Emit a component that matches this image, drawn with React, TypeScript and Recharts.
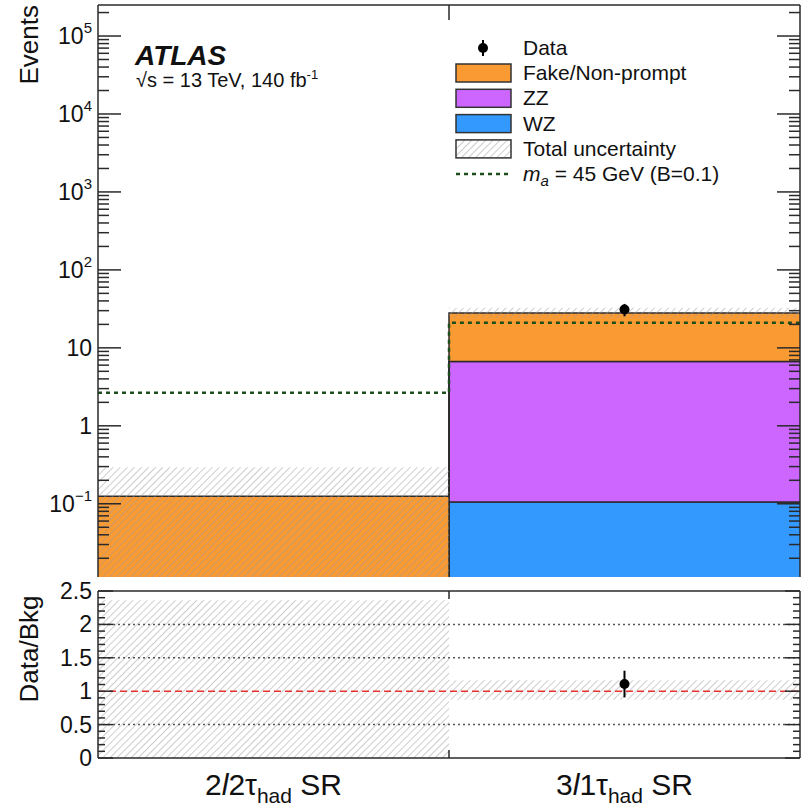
import React from 'react';
import {
  ComposedChart,
  Area,
  Line,
  Scatter,
  ErrorBar,
  XAxis,
  YAxis,
  ReferenceLine,
  Legend,
} from 'recharts';

// bins: 2l2tau_had SR, 3l1tau_had SR
const binLeptons = ['2', '3'];
const binTaus = ['2', '1'];
const binEdges = [0, 1, 2];

// stacked background yields per bin
const wzYield = [0, 0.105];
const zzYield = [0, 6.6];
const fakeYield = [0.125, 21.3];
const uncUp = [0.17, 4.6];
const uncDown = [0.125, 3.6];

const dataCounts = [0, 31];
const dataErr = [0, 5.6];
const signalYield = [2.65, 21];

const Y_MIN = 0.0115;
const Y_MAX = 2.5e5;
const FLOOR = 0.004;
const R_MAX = 2.5;

const PLOT_LEFT = 98;
const PLOT_RIGHT = 800;
const PLOT_W = PLOT_RIGHT - PLOT_LEFT;
const TOP_PLOT_TOP = 5;
const RATIO_TOP = 570;
const RATIO_PLOT_TOP = 21;

const FONT = '"Liberation Sans", Arial, Helvetica, sans-serif';
const AXIS = '#2a2a2a';

const totals = fakeYield.map((f, j) => f + zzYield[j] + wzYield[j]);

// histogram rows: one per bin edge, last edge repeats the last bin (stepAfter)
const rows = binEdges.map((x, i) => {
  const j = Math.min(i, fakeYield.length - 1);
  const wz = wzYield[j];
  const zz = zzYield[j];
  const tot = totals[j];
  return {
    x,
    wz: [FLOOR, Math.max(wz, FLOOR)],
    zz: [Math.max(wz, FLOOR), Math.max(wz + zz, FLOOR)],
    fake: [Math.max(wz + zz, FLOOR), tot],
    unc: [Math.max(tot - uncDown[j], FLOOR), tot + uncUp[j]],
    sig: signalYield[j],
    rUnc: [(tot - uncDown[j]) / tot, (tot + uncUp[j]) / tot],
  };
});

const points = dataCounts
  .map((n, j) => ({
    x: j + 0.5,
    y: n,
    err: dataErr[j],
    r: n / totals[j],
    rErr: dataErr[j] / totals[j],
  }))
  .filter((p) => p.y > 0);

const logTicks: number[] = [];
for (let e = -2; e <= 5; e++) {
  for (let m = 1; m <= 9; m++) {
    const v = m * Math.pow(10, e);
    if (v >= Y_MIN && v <= Y_MAX) logTicks.push(v);
  }
}
const ratioTicks = Array.from({ length: 26 }, (_, i) => i / 10);

const LogTick = (props: any) => {
  const { x, y, payload } = props;
  const v = payload.value;
  const lg = Math.log10(v);
  const e = Math.round(lg);
  const major = Math.abs(lg - e) < 1e-6;
  const len = major ? 23 : 11;
  let label: React.ReactNode = null;
  if (major) {
    if (e === 0) label = '1';
    else if (e === 1) label = '10';
    else
      label = (
        <>
          10
          <tspan dy={-11} fontSize={15}>
            {e < 0 ? '\u2212' + -e : e}
          </tspan>
        </>
      );
  }
  return (
    <g>
      <line x1={x} x2={x + len} y1={y} y2={y} stroke={AXIS} strokeWidth={1.5} />
      <line x1={x + PLOT_W} x2={x + PLOT_W - len} y1={y} y2={y} stroke={AXIS} strokeWidth={1.5} />
      {major && (
        <text x={x - 6} y={y + 8} textAnchor="end" fontSize={23} fill="#111" fontFamily={FONT}>
          {label}
        </text>
      )}
    </g>
  );
};

const RatioTick = (props: any) => {
  const { x, y, payload } = props;
  const v = payload.value;
  const major = Math.abs(v * 2 - Math.round(v * 2)) < 1e-6;
  const len = major ? 15 : 7;
  return (
    <g>
      <line x1={x} x2={x + len} y1={y} y2={y} stroke={AXIS} strokeWidth={1.5} />
      <line x1={x + PLOT_W} x2={x + PLOT_W - len} y1={y} y2={y} stroke={AXIS} strokeWidth={1.5} />
      {major && (
        <text x={x - 6} y={y + 8} textAnchor="end" fontSize={23} fill="#111" fontFamily={FONT}>
          {Number(v.toFixed(1))}
        </text>
      )}
    </g>
  );
};

const TopEdgeTick = (props: any) => {
  const { x } = props;
  return <line x1={x} x2={x} y1={TOP_PLOT_TOP} y2={TOP_PLOT_TOP + 15} stroke={AXIS} strokeWidth={1.5} />;
};

const RatioXTick = (props: any) => {
  const { x, y, payload } = props;
  const v = payload.value;
  if (Number.isInteger(v)) {
    return (
      <g>
        <line x1={x} x2={x} y1={y} y2={y - 8} stroke={AXIS} strokeWidth={1.5} />
        <line x1={x} x2={x} y1={RATIO_PLOT_TOP} y2={RATIO_PLOT_TOP + 8} stroke={AXIS} strokeWidth={1.5} />
      </g>
    );
  }
  const j = Math.floor(v);
  return (
    <text x={x} y={y + 37} textAnchor="middle" fontSize={30} fill="#111" fontFamily={FONT}>
      <tspan>{binLeptons[j]}</tspan>
      <tspan fontStyle="italic">l</tspan>
      <tspan>{binTaus[j]}τ</tspan>
      <tspan fontSize={21} dy={8}>had</tspan>
      <tspan dy={-8}> SR</tspan>
    </text>
  );
};

const boxes = [
  { name: 'Fake/Non-prompt', fill: '#fa9a33' },
  { name: 'ZZ', fill: '#cc66ff' },
  { name: 'WZ', fill: '#3399ff' },
  { name: 'Total uncertainty', fill: 'url(#hatch)' },
];

const LegendBox = () => (
  <svg width={320} height={160} style={{ fontFamily: FONT }}>
    <line x1={33} x2={33} y1={6} y2={22} stroke="#000" strokeWidth={2} />
    <circle cx={33} cy={14} r={5} fill="#000" />
    <text x={73} y={21} fontSize={21} fill="#111">Data</text>
    {boxes.map((b, i) => (
      <g key={b.name}>
        <rect x={6} y={30 + i * 25.3} width={55} height={18} fill={b.fill} stroke="#333" strokeWidth={1.5} />
        <text x={73} y={46 + i * 25.3} fontSize={21} fill="#111">
          {b.name}
        </text>
      </g>
    ))}
    <line x1={6} x2={59} y1={140} y2={140} stroke="#1d4f1d" strokeWidth={2.5} strokeDasharray="4 4" />
    <text x={73} y={147} fontSize={21} fill="#111">
      <tspan fontStyle="italic">m</tspan>
      <tspan fontStyle="italic" fontSize={15} dy={5}>a</tspan>
      <tspan dy={-5}> = 45 GeV (B=0.1)</tspan>
    </text>
  </svg>
);

export default function App() {
  return (
    <div style={{ position: 'absolute', left: 0, top: 0, width: 808, height: 809, background: '#fff', fontFamily: FONT }}>
      <svg width={0} height={0} style={{ position: 'absolute' }}>
        <defs>
          <pattern id="hatch" patternUnits="userSpaceOnUse" width={5} height={5} patternTransform="rotate(45)">
            <line x1={0} y1={0} x2={0} y2={5} stroke="#9c9c9c" strokeWidth={1} />
          </pattern>
        </defs>
      </svg>

      <div style={{ position: 'absolute', left: 0, top: 0 }}>
        <ComposedChart width={808} height={580} data={rows} margin={{ top: TOP_PLOT_TOP, right: 808 - PLOT_RIGHT, bottom: 2, left: PLOT_LEFT - 1 }}>
          <XAxis
            type="number"
            dataKey="x"
            domain={[0, 2]}
            ticks={[1]}
            interval={0}
            height={1}
            tickSize={0}
            tickMargin={0}
            axisLine={false}
            tickLine={false}
            tick={<TopEdgeTick />}
          />
          <YAxis
            scale="log"
            domain={[Y_MIN, Y_MAX]}
            allowDataOverflow
            ticks={logTicks}
            interval={0}
            width={1}
            tickSize={0}
            tickMargin={0}
            tickLine={false}
            axisLine={{ stroke: AXIS, strokeWidth: 1.5 }}
            tick={<LogTick />}
            label={{
              content: () => (
                <text transform="translate(38,5) rotate(-90)" textAnchor="end" fontSize={26} fill="#111" fontFamily={FONT}>
                  Events
                </text>
              ),
            }}
          />
          <Area type="stepAfter" dataKey="wz" fill="#3399ff" fillOpacity={1} stroke="#2b2b2b" strokeWidth={1.5} dot={false} activeDot={false} isAnimationActive={false} />
          <Area type="stepAfter" dataKey="zz" fill="#cc66ff" fillOpacity={1} stroke="#2b2b2b" strokeWidth={1.5} dot={false} activeDot={false} isAnimationActive={false} />
          <Area type="stepAfter" dataKey="fake" fill="#fa9a33" fillOpacity={1} stroke="#2b2b2b" strokeWidth={1.5} dot={false} activeDot={false} isAnimationActive={false} />
          <Area type="stepAfter" dataKey="unc" fill="url(#hatch)" fillOpacity={1} stroke="none" dot={false} activeDot={false} isAnimationActive={false} />
          <Line type="stepAfter" dataKey="sig" stroke="#1d4f1d" strokeWidth={2.5} strokeDasharray="4 4" dot={false} activeDot={false} isAnimationActive={false} />
          <Scatter data={points} dataKey="y" fill="#000" isAnimationActive={false} shape={(p: any) => <circle cx={p.cx} cy={p.cy} r={5} fill="#000" />}>
            <ErrorBar dataKey="err" direction="y" width={0} stroke="#000" strokeWidth={2} />
          </Scatter>
          <ReferenceLine y={Y_MAX} stroke={AXIS} strokeWidth={1.5} />
          <ReferenceLine x={2} stroke={AXIS} strokeWidth={1.5} />
          <Legend
            layout="vertical"
            align="center"
            verticalAlign="middle"
            content={<LegendBox />}
            wrapperStyle={{ position: 'absolute', left: 450, top: 34, width: 320, height: 160 }}
          />
        </ComposedChart>
      </div>

      <div style={{ position: 'absolute', left: 0, top: RATIO_TOP }}>
        <ComposedChart width={808} height={239} data={rows} margin={{ top: RATIO_PLOT_TOP, right: 808 - PLOT_RIGHT, bottom: 50, left: PLOT_LEFT - 1 }}>
          <XAxis
            type="number"
            dataKey="x"
            domain={[0, 2]}
            ticks={[0.5, 1, 1.5]}
            interval={0}
            height={1}
            tickSize={0}
            tickMargin={0}
            axisLine={false}
            tickLine={false}
            tick={<RatioXTick />}
          />
          <YAxis
            domain={[0, R_MAX]}
            allowDataOverflow
            ticks={ratioTicks}
            interval={0}
            width={1}
            tickSize={0}
            tickMargin={0}
            tickLine={false}
            axisLine={{ stroke: AXIS, strokeWidth: 1.5 }}
            tick={<RatioTick />}
            label={{
              content: () => (
                <text transform="translate(38,79) rotate(-90)" textAnchor="middle" fontSize={26} fill="#111" fontFamily={FONT}>
                  Data/Bkg
                </text>
              ),
            }}
          />
          <Area type="stepAfter" dataKey="rUnc" fill="url(#hatch)" fillOpacity={1} stroke="none" dot={false} activeDot={false} isAnimationActive={false} />
          <ReferenceLine y={0.5} stroke="#555" strokeWidth={1.5} strokeDasharray="2 3" />
          <ReferenceLine y={1.5} stroke="#555" strokeWidth={1.5} strokeDasharray="2 3" />
          <ReferenceLine y={2} stroke="#555" strokeWidth={1.5} strokeDasharray="2 3" />
          <ReferenceLine y={1} stroke="#e8322e" strokeWidth={1.5} strokeDasharray="7 4" />
          <Scatter data={points} dataKey="r" fill="#000" isAnimationActive={false} shape={(p: any) => <circle cx={p.cx} cy={p.cy} r={5} fill="#000" />}>
            <ErrorBar dataKey="rErr" direction="y" width={0} stroke="#000" strokeWidth={2} />
          </Scatter>
          <ReferenceLine y={R_MAX} stroke={AXIS} strokeWidth={1.5} />
          <ReferenceLine y={0} stroke={AXIS} strokeWidth={1.5} />
          <ReferenceLine x={2} stroke={AXIS} strokeWidth={1.5} />
        </ComposedChart>
      </div>

      <svg width={808} height={809} style={{ position: 'absolute', left: 0, top: 0, pointerEvents: 'none' }}>
        <text x={135} y={65} fontSize={28} fontWeight="bold" fontStyle="italic" fill="#111" fontFamily={FONT}>
          ATLAS
        </text>
        <text x={136} y={87} fontSize={20} fill="#111" fontFamily={FONT}>
          √s = 13 TeV, 140 fb<tspan dy={-8} fontSize={13}>-1</tspan>
        </text>
      </svg>
    </div>
  );
}
